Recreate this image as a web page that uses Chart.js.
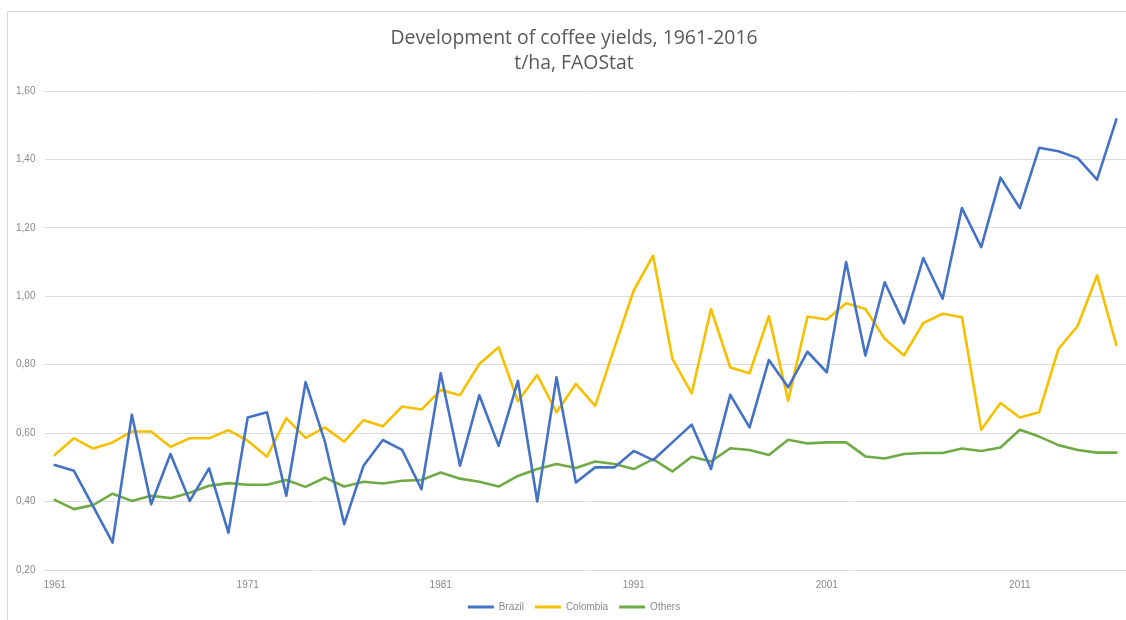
<!DOCTYPE html>
<html>
<head>
<meta charset="utf-8">
<script src="https://cdn.jsdelivr.net/npm/chart.js@4.4.1/dist/chart.umd.min.js"></script>
<style>
  html, body { margin: 0; padding: 0; background: #ffffff; overflow: hidden; }
  #wrap { position: relative; width: 1126px; height: 620px; overflow: hidden; }
  #frame { position: absolute; left: 7px; top: 11px; width: 1130px; height: 620px;
           border-left: 1px solid #d9d9d9; border-top: 1px solid #d9d9d9; box-sizing: border-box; }
  canvas { position: absolute; left: 0; top: 0; }
</style>
</head>
<body>
<div id="wrap">
  <div id="frame"></div>
  <canvas id="c" width="1126" height="622"></canvas>
</div>
<script>
const years = ["1961","1962","1963","1964","1965","1966","1967","1968","1969","1970",
  "1971","1972","1973","1974","1975","1976","1977","1978","1979","1980",
  "1981","1982","1983","1984","1985","1986","1987","1988","1989","1990",
  "1991","1992","1993","1994","1995","1996","1997","1998","1999","2000",
  "2001","2002","2003","2004","2005","2006","2007","2008","2009","2010",
  "2011","2012","2013","2014","2015","2016"];

const brazil = [0.507,0.49,0.385,0.28,0.654,0.392,0.539,0.402,0.497,0.309,
  0.646,0.661,0.417,0.749,0.575,0.334,0.505,0.58,0.551,0.436,
  0.775,0.505,0.711,0.563,0.753,0.40,0.763,0.456,0.50,0.50,
  0.548,0.521,0.573,0.625,0.495,0.712,0.617,0.814,0.734,0.838,
  0.778,1.10,0.827,1.041,0.921,1.112,0.993,1.258,1.144,1.347,
  1.258,1.434,1.424,1.404,1.341,1.517];

const colombia = [0.536,0.585,0.555,0.573,0.605,0.605,0.56,0.585,0.585,0.609,
  0.578,0.531,0.644,0.586,0.617,0.575,0.638,0.62,0.678,0.669,
  0.726,0.711,0.802,0.851,0.693,0.77,0.661,0.744,0.68,0.85,
  1.017,1.119,0.818,0.716,0.963,0.792,0.775,0.942,0.695,0.941,
  0.932,0.98,0.963,0.876,0.827,0.922,0.949,0.939,0.61,0.688,
  0.646,0.661,0.846,0.914,1.061,0.858];

const others = [0.405,0.378,0.39,0.423,0.402,0.417,0.41,0.426,0.446,0.454,
  0.449,0.449,0.463,0.443,0.47,0.444,0.458,0.453,0.461,0.463,
  0.485,0.467,0.458,0.444,0.475,0.495,0.51,0.498,0.517,0.51,
  0.495,0.524,0.488,0.531,0.517,0.556,0.551,0.536,0.581,0.57,
  0.573,0.573,0.532,0.526,0.539,0.542,0.542,0.555,0.548,0.558,
  0.61,0.59,0.565,0.551,0.543,0.543];

const xTickYears = ["1961","1971","1981","1991","2001","2011"];
const titleLines = ["Development of coffee yields, 1961-2016", "t/ha, FAOStat"];
const seriesNames = ["Brazil", "Colombia", "Others"];
const seriesColors = ["#4472C4", "#F5C000", "#6FAA45"];

const tickFont = { family: "Liberation Sans", size: 10 };
const tickColor = "#8a8a8a";

function makeSet(i, values) {
  return {
    label: seriesNames[i],
    data: values,
    borderColor: seriesColors[i],
    backgroundColor: seriesColors[i],
    pointBorderColor: seriesColors[i],
    pointBackgroundColor: seriesColors[i],
    pointBorderWidth: 3
  };
}

new Chart(document.getElementById("c"), {
  type: "line",
  data: {
    labels: years,
    datasets: [makeSet(0, brazil), makeSet(1, colombia), makeSet(2, others)]
  },
  options: {
    responsive: false,
    animation: false,
    devicePixelRatio: 1,
    layout: { padding: { left: 22, right: 0, top: 0, bottom: 0 } },
    elements: {
      line: { borderWidth: 2.6, tension: 0, borderCapStyle: "round", borderJoinStyle: "round" },
      point: { radius: 0, hoverRadius: 0 }
    },
    scales: {
      x: {
        type: "category",
        offset: true,
        afterFit: (s) => { s.height = 21; },
        grid: { display: false, drawTicks: false },
        border: { display: false },
        ticks: {
          autoSkip: false,
          maxRotation: 0,
          padding: 9,
          font: tickFont,
          color: tickColor,
          callback: function (v) {
            const lab = this.getLabelForValue(v);
            return xTickYears.includes(lab) ? lab : "";
          }
        }
      },
      y: {
        min: 0.2,
        max: 1.6,
        afterFit: (s) => { s.width = 23; },
        grid: { color: "#dcdcdc", lineWidth: 1, drawTicks: false },
        border: { display: false },
        ticks: {
          stepSize: 0.2,
          mirror: true,
          padding: -29,
          font: tickFont,
          color: tickColor,
          callback: (v) => Number(v).toFixed(2).replace(".", ",")
        }
      }
    },
    plugins: {
      title: {
        display: true,
        text: titleLines,
        color: "#595959",
        font: { family: "Open Sans", size: 19.4, weight: "normal", lineHeight: 1.29 },
        padding: { top: 26, bottom: 15 }
      },
      legend: {
        display: true,
        position: "bottom",
        labels: {
          usePointStyle: true,
          pointStyle: "line",
          pointStyleWidth: 26,
          boxWidth: 26,
          boxHeight: 3,
          padding: 11,
          font: { family: "Liberation Sans", size: 10 },
          color: "#8a8a8a"
        }
      },
      tooltip: { enabled: false }
    }
  }
});
</script>
</body>
</html>
